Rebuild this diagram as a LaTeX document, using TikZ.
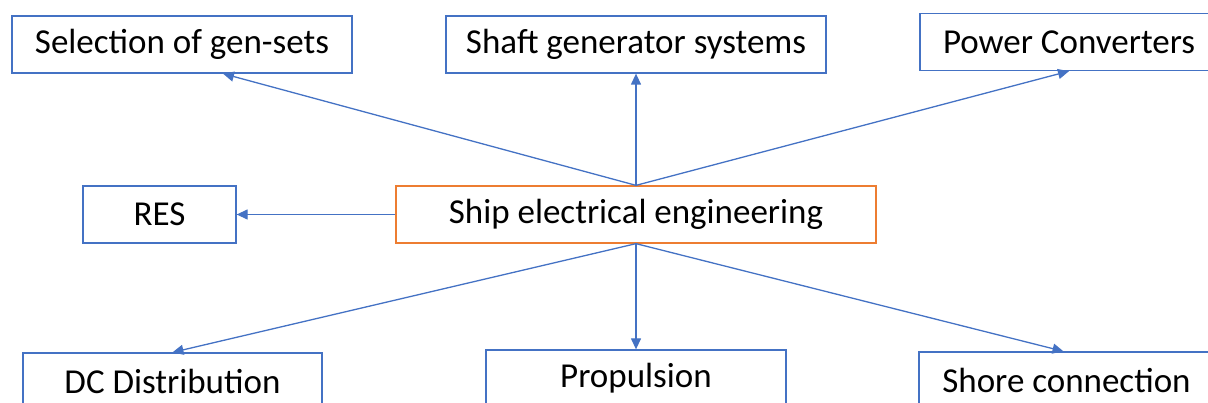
\documentclass[tikz,border=0pt]{standalone}
\usepackage{fontspec}
\setmainfont{Carlito}
\usetikzlibrary{arrows.meta}
\definecolor{boxblue}{RGB}{68, 114, 196}
\definecolor{boxorange}{RGB}{237, 125, 49}

\begin{document}
\begin{tikzpicture}[
  x=1pt, y=-1pt,
  every node/.style={font=\fontsize{35}{41}\selectfont, inner sep=0pt, minimum height=57pt, align=center},
  topic/.style={draw=boxblue, line width=1.3pt, fill=white},
  hub/.style={draw=boxorange, line width=1.3pt, fill=white},
  arr/.style={-{Triangle[length=11pt, width=10pt]}, line width=1.3pt, boxblue}
]
  \useasboundingbox (0,0) rectangle (1208,403);
  \clip (0,0) rectangle (1208,403);

  % Centre
  \node[hub] (ship) at (636, 214.5) [minimum width=480pt] {Ship electrical engineering};

  % Top row
  \node[topic] (gensets) at (182, 44.5)  [minimum width=340pt] {Selection of gen-sets};
  \node[topic] (shaft)   at (636, 44.5)  [minimum width=380pt] {Shaft generator systems};
  \node[topic] (conv)    at (1069, 42)   [minimum width=298pt] {Power Converters};

  % Middle row
  \node[topic] (res) at (159.5, 214.5) [minimum width=153pt] {RES};

  % Bottom row
  \node[topic] (dc)    at (172.5, 381.5) [minimum width=299pt] {DC Distribution};
  \node[topic] (prop)  at (636, 378.5)   [minimum width=300pt] {Propulsion};
  \node[topic] (shore) at (1066.5, 380.5) [minimum width=295pt] {Shore connection};

  % Arrows out of the centre
  \draw[arr] (ship.north) -- ([xshift=41pt]gensets.south);
  \draw[arr] (ship.north) -- (shaft.south);
  \draw[arr] (ship.north) -- (conv.south);
  \draw[arr] (ship.west) -- (res.east);
  \draw[arr] (ship.south) -- (dc.north);
  \draw[arr] (ship.south) -- (prop.north);
  \draw[arr] (ship.south) -- ([xshift=-3pt]shore.north);

\end{tikzpicture}
\end{document}
